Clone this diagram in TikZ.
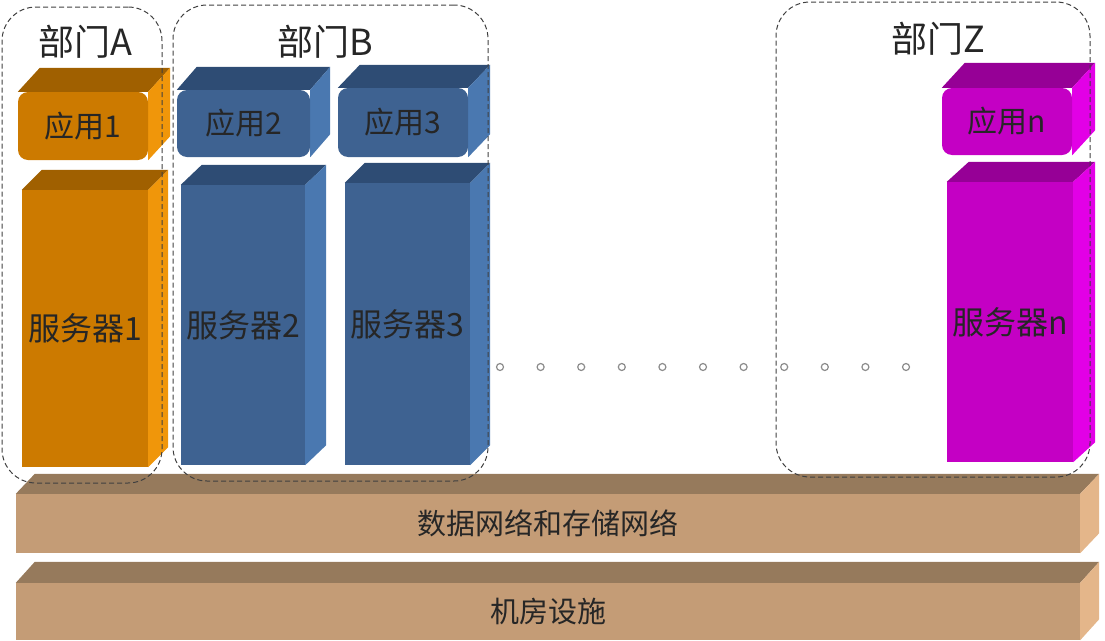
\documentclass[tikz,border=0pt]{standalone}
\usepackage{fontspec}
\setmainfont{Noto Sans CJK SC}
\usetikzlibrary{calc}
\pgfdeclarelayer{bg}
\pgfsetlayers{bg,main}
\definecolor{orF}{RGB}{204,122,0}
\definecolor{orT}{RGB}{160,96,0}
\definecolor{orR}{RGB}{240,150,10}
\definecolor{blF}{RGB}{62,98,145}
\definecolor{blT}{RGB}{46,76,116}
\definecolor{blR}{RGB}{74,120,176}
\definecolor{mgF}{RGB}{196,0,196}
\definecolor{mgT}{RGB}{150,0,150}
\definecolor{mgR}{RGB}{226,0,230}
\definecolor{tnF}{RGB}{196,156,118}
\definecolor{tnT}{RGB}{150,122,92}
\definecolor{tnR}{RGB}{228,182,138}
\tikzset{
  face/.style={inner sep=0pt, text=black!85},
  appface/.style={face, rounded corners=10pt, font=\fontsize{30}{34}\selectfont},
  srvface/.style={face, font=\fontsize{32}{36}\selectfont},
  bandface/.style={face, font=\fontsize{29}{33}\selectfont},
  deptbox/.style={draw=black!75, dashed, line width=1pt, dash pattern=on 5pt off 3pt, rounded corners=34pt, inner sep=0pt},
  deptlabel/.style={font=\fontsize{36}{40}\selectfont, inner sep=0pt, text=black!85},
  ellipsisdot/.style={circle, draw=black!45, line width=1.2pt, minimum size=7pt, inner sep=0pt}
}
% #1 name, #2 center, #3 width, #4 height, #5 dx, #6 dy, #7 colour prefix, #8 style, #9 text
\newcommand\solidbox[9]{%
  \node[#8, fill=#7F, minimum width=#3, minimum height=#4] (#1) at #2 {#9};
  \begin{pgfonlayer}{bg}
    \fill[#7T] (#1.north west) -- ++(#5,-#6) -- ([shift={(#5,-#6)}]#1.north east) -- (#1.north east) -- cycle;
    \fill[#7R] (#1.north east) -- ++(#5,-#6) -- ([shift={(#5,-#6)}]#1.south east) -- (#1.south east) -- cycle;
  \end{pgfonlayer}}
\begin{document}
\begin{tikzpicture}[x=1pt,y=-1pt]
\useasboundingbox (0,0) rectangle (1105,640);
% bands
\solidbox{net}{(548,523.5)}{1064}{59}{19}{20}{tn}{bandface}{数据网络和存储网络}
\solidbox{room}{(548,611.5)}{1064}{57}{19}{21}{tn}{bandface}{机房设施}
% applications
\solidbox{app1}{(83,126)}{130}{68}{22}{24}{or}{appface}{应用1}
\solidbox{app2}{(243.5,123.5)}{133}{67}{20}{23}{bl}{appface}{应用2}
\solidbox{app3}{(403,122.5)}{130}{69}{22}{23}{bl}{appface}{应用3}
\solidbox{appn}{(1007,121.5)}{130}{67}{23}{25}{mg}{appface}{应用n}
% servers
\solidbox{srv1}{(85,328.5)}{126}{277}{20}{20}{or}{srvface}{服务器1}
\solidbox{srv2}{(243,325)}{124}{280}{21}{20}{bl}{srvface}{服务器2}
\solidbox{srv3}{(407.5,324)}{125}{282}{20}{20}{bl}{srvface}{服务器3}
\solidbox{srvn}{(1010,322)}{126}{280}{22}{20}{mg}{srvface}{服务器n}
% ellipsis dots
\foreach \i in {0,...,10}{
  \node[ellipsisdot] (dot\i) at ({500+40.6*\i},367) {};
}
% departments
\node[deptbox, minimum width=160, minimum height=476] (deptA) at (82,245) {};
\node[deptbox, minimum width=315, minimum height=476] (deptB) at (330.5,243) {};
\node[deptbox, minimum width=314, minimum height=475] (deptZ) at (933,239.5) {};
\node[deptlabel] (labA) at (85,42) {部门A};
\node[deptlabel] (labB) at (325,42) {部门B};
\node[deptlabel] (labZ) at (938,39) {部门Z};
\end{tikzpicture}
\end{document}
